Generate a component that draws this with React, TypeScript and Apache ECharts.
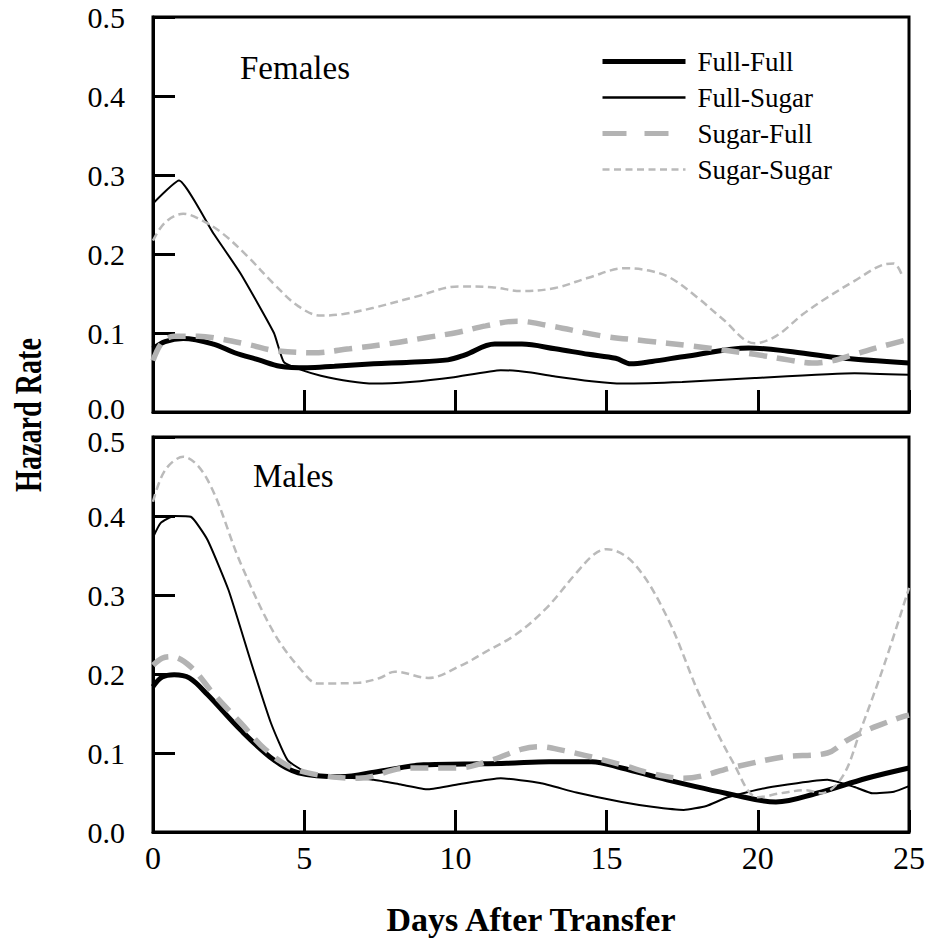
import React, { useEffect, useRef } from "react";
import * as echarts from "echarts";

const seriesNames = ["Full-Full", "Full-Sugar", "Sugar-Full", "Sugar-Sugar"];
const panelNames = ["Females", "Males"];
const xTicks = [0, 5, 10, 15, 20, 25];
const yTicks = [0, 0.1, 0.2, 0.3, 0.4, 0.5];

// [day, hazard rate]
const femalesFullFull = [[0,0.080],[0.4,0.089],[1,0.093],[2,0.086],[2.7,0.075],[3.5,0.066],[4.2,0.058],[5.1,0.056],[6,0.058],[7.3,0.061],[8.5,0.063],[9.75,0.066],[10.3,0.072],[11.3,0.086],[12.2,0.086],[13.3,0.080],[14.4,0.073],[15.3,0.068],[15.8,0.061],[16.5,0.064],[17.7,0.071],[19.7,0.081],[21,0.077],[22.6,0.069],[25,0.062]];
const femalesFullSugar = [[0,0.264],[0.86,0.293],[2,0.226],[2.9,0.175],[4.0,0.100],[4.33,0.063],[5,0.052],[5.55,0.046],[6.5,0.039],[7.3,0.036],[8.5,0.038],[9.95,0.044],[11.5,0.053],[12.5,0.050],[13.3,0.045],[14.5,0.039],[15.5,0.036],[17.5,0.038],[19.9,0.043],[23.2,0.049],[25,0.047]];
const femalesSugarFull = [[0,0.065],[0.3,0.088],[0.7,0.096],[1.5,0.096],[2.3,0.092],[3.2,0.085],[4.0,0.078],[5.3,0.075],[6.5,0.080],[7.9,0.087],[9,0.094],[10.1,0.101],[11,0.109],[12.05,0.115],[13,0.110],[14.9,0.096],[16.3,0.090],[17.7,0.084],[19.9,0.073],[21,0.066],[21.8,0.062],[22.5,0.065],[23.2,0.073],[24,0.082],[25,0.092]];
const femalesSugarSugar = [[0,0.217],[0.4,0.240],[1.0,0.251],[1.6,0.243],[2.3,0.226],[3.1,0.198],[4.0,0.162],[4.8,0.134],[5.55,0.122],[6.3,0.124],[7.3,0.132],[8.7,0.146],[10.1,0.159],[11.2,0.158],[12.2,0.153],[13.3,0.157],[14.4,0.170],[15.6,0.182],[16.4,0.179],[17.1,0.170],[18,0.145],[18.8,0.119],[19.9,0.087],[20.6,0.096],[21.5,0.124],[22.3,0.145],[23.2,0.166],[24.2,0.187],[24.5,0.188],[24.75,0.175]];

const malesFullFull = [[0,0.184],[0.3,0.196],[0.7,0.199],[1.2,0.195],[1.8,0.174],[2.9,0.129],[4.0,0.091],[4.8,0.075],[6.2,0.070],[7.5,0.077],[8.95,0.085],[10.3,0.086],[11.7,0.087],[13.1,0.089],[14.5,0.089],[15.5,0.081],[17.0,0.066],[19.2,0.047],[20.6,0.038],[21.95,0.049],[23.6,0.068],[25,0.081]];
const malesFullSugar = [[0,0.373],[0.25,0.391],[0.7,0.400],[1.25,0.399],[1.8,0.370],[2.5,0.306],[3.25,0.214],[3.9,0.138],[4.45,0.091],[5.1,0.075],[6,0.070],[7.3,0.066],[8.2,0.060],[9.1,0.054],[10.2,0.061],[11.5,0.068],[12.8,0.062],[14,0.050],[15.5,0.038],[16.5,0.032],[17.55,0.028],[18.3,0.033],[19.0,0.044],[20.3,0.056],[22.3,0.066],[23.2,0.057],[23.8,0.049],[24.5,0.051],[25,0.058]];
const malesSugarFull = [[0,0.211],[0.3,0.220],[0.6,0.222],[1.25,0.209],[2,0.175],[2.9,0.138],[3.7,0.105],[4.55,0.082],[5.5,0.072],[6.8,0.068],[8.4,0.081],[10.1,0.081],[11.2,0.091],[12.2,0.105],[12.8,0.108],[13.6,0.103],[14.5,0.095],[15.5,0.085],[16.5,0.074],[17.55,0.068],[19.2,0.082],[20.85,0.095],[22.3,0.100],[22.95,0.116],[23.5,0.127],[24.0,0.135],[24.8,0.146],[25,0.148]];
const malesSugarSugar = [[0,0.418],[0.4,0.458],[1.0,0.475],[1.8,0.446],[2.9,0.340],[4.0,0.252],[4.9,0.205],[5.45,0.188],[6.8,0.189],[7.5,0.195],[8.0,0.203],[9.1,0.195],[10.2,0.211],[11.0,0.228],[12.0,0.250],[13.0,0.283],[14.0,0.328],[14.6,0.352],[15.0,0.358],[15.9,0.340],[17.0,0.272],[18.1,0.171],[19.2,0.087],[20.0,0.044],[20.75,0.049],[21.6,0.053],[22.1,0.049],[22.8,0.070],[23.4,0.129],[24.2,0.214],[25.0,0.309]];

const panelData = [
  [femalesFullFull, femalesFullSugar, femalesSugarFull, femalesSugarSugar],
  [malesFullFull, malesFullSugar, malesSugarFull, malesSugarSugar],
];

const FONT = "'Liberation Serif', 'Times New Roman', serif";

const lineStyles: any[] = [
  { color: "#000000", width: 5, type: "solid" },
  { color: "#000000", width: 2, type: "solid" },
  { color: "#b3b3b3", width: 5.5, type: [18, 10] },
  { color: "#bababa", width: 2.5, type: [8, 4.5] },
];
const legendLineStyles: any[] = [
  { color: "#000000", width: 5, type: "solid" },
  { color: "#000000", width: 2.5, type: "solid" },
  { color: "#b3b3b3", width: 5, type: [24, 18] },
  { color: "#bababa", width: 2.5, type: [7, 4.5] },
];
const smoothness = [0.35, 0.15, 0.35, 0.35];

export default function App() {
  const ref = useRef<HTMLDivElement>(null);
  useEffect(() => {
    const chart = echarts.init(ref.current!, null, { renderer: "svg" });
    const grids = [
      { left: 153, width: 756, top: 17, height: 395 },
      { left: 153, width: 756, top: 437, height: 395 },
    ].map((g) => ({ ...g, show: true, borderColor: "#000", borderWidth: 3 }));

    const axisLine = { show: true, lineStyle: { color: "#000", width: 3 } };
    const axisTick = { show: true, inside: true, length: 22, lineStyle: { color: "#000", width: 3 } };

    const xAxes = [0, 1].map((i) => ({
      gridIndex: i,
      type: "value",
      min: xTicks[0],
      max: xTicks[xTicks.length - 1],
      interval: 5,
      axisLine,
      axisTick,
      splitLine: { show: false },
      axisLabel: {
        show: i === 1,
        fontFamily: FONT,
        fontSize: 32,
        color: "#000",
        margin: 10,
      },
      name: i === 1 ? "Days After Transfer" : "",
      nameLocation: "middle",
      nameGap: 70,
      nameTextStyle: { fontFamily: FONT, fontWeight: "bold", fontSize: 34, color: "#000" },
    }));

    const labelFont = { fontFamily: FONT, fontSize: 30, color: "#000" };
    const yAxes = [0, 1].map((i) => ({
      gridIndex: i,
      type: "value",
      min: yTicks[0],
      max: yTicks[yTicks.length - 1],
      interval: 0.1,
      axisLine,
      axisTick,
      splitLine: { show: false },
      axisLabel: {
        ...labelFont,
        margin: 28,
        formatter: (v: number) => {
          const s = v.toFixed(1);
          if (i === 0 && v === 0) return `{up|${s}}`;
          if (i === 1 && Math.abs(v - 0.5) < 1e-9) return `{down|${s}}`;
          return s;
        },
        rich: {
          up: { ...labelFont, padding: [0, 0, 8, 0] },
          down: { ...labelFont, padding: [8, 0, 0, 0] },
        },
      },
    }));

    const series: any[] = [];
    panelData.forEach((group, gi) => {
      group.forEach((data, si) => {
        series.push({
          type: "line",
          name: seriesNames[si],
          xAxisIndex: gi,
          yAxisIndex: gi,
          data,
          symbol: "none",
          smooth: smoothness[si],
          lineStyle: lineStyles[si],
          itemStyle: { color: lineStyles[si].color },
          z: 2 + si,
        });
      });
    });

    chart.setOption({
      animation: false,
      backgroundColor: "#ffffff",
      grid: grids,
      xAxis: xAxes,
      yAxis: yAxes,
      legend: {
        orient: "vertical",
        left: 595,
        top: 43,
        itemWidth: 83,
        itemHeight: 14,
        itemGap: 9,
        data: seriesNames.map((name, i) => ({
          name,
          lineStyle: legendLineStyles[i],
          itemStyle: { opacity: 0, borderWidth: 0 },
        })),
        textStyle: {
          fontFamily: FONT,
          fontSize: 27,
          lineHeight: 27,
          color: "#000",
          padding: [0, 0, 0, 7],
        },
      },
      graphic: [
        {
          type: "text",
          x: 240,
          y: 68,
          style: { text: panelNames[0], font: `33px ${FONT}`, fill: "#000", textAlign: "left", textVerticalAlign: "middle" },
        },
        {
          type: "text",
          x: 253,
          y: 476,
          style: { text: panelNames[1], font: `33px ${FONT}`, fill: "#000", textAlign: "left", textVerticalAlign: "middle" },
        },
        {
          type: "text",
          x: 29,
          y: 415,
          rotation: Math.PI / 2,
          scaleX: 0.76,
          style: { text: "Hazard Rate", font: `bold 37px ${FONT}`, fill: "#000", textAlign: "center", textVerticalAlign: "middle" },
        },
      ],
      series,
    });
    return () => chart.dispose();
  }, []);
  return <div ref={ref} style={{ position: "fixed", left: 0, top: 0, width: 933, height: 943 }} />;
}
